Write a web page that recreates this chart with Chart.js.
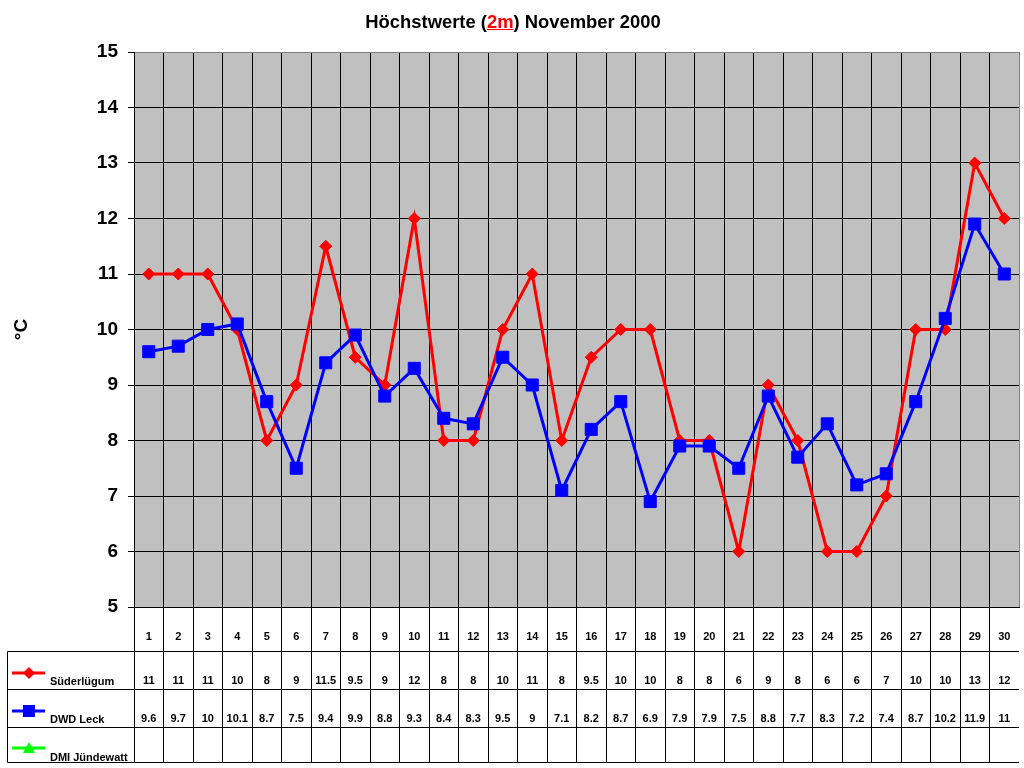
<!DOCTYPE html>
<html>
<head>
<meta charset="utf-8">
<script src="https://cdn.jsdelivr.net/npm/chart.js@4/dist/chart.umd.min.js"></script>
<style>
  body { margin: 0; background: #fff; }
  #wrap { position: relative; width: 1024px; height: 768px; }
  #title {
    position: absolute; left: 0; top: 11px; width: 1026px; text-align: center;
    font: bold 18.4px "Liberation Sans", Arial, sans-serif; color: #000;
  }
  #title span { color: #f00; text-decoration: underline; }
  canvas { position: absolute; left: 0; top: 0; }
</style>
</head>
<body>
<div id="wrap">
  <canvas id="myChart" width="1024" height="768"></canvas>
  <div id="title">Höchstwerte (<span>2m</span>) November 2000</div>
</div>
<script>
const days = ["1","2","3","4","5","6","7","8","9","10","11","12","13","14","15",
  "16","17","18","19","20","21","22","23","24","25","26","27","28","29","30"];
const suederluegum = [11, 11, 11, 10, 8, 9, 11.5, 9.5, 9, 12, 8, 8, 10, 11, 8,
  9.5, 10, 10, 8, 8, 6, 9, 8, 6, 6, 7, 10, 10, 13, 12];
const dwdLeck = [9.6, 9.7, 10, 10.1, 8.7, 7.5, 9.4, 9.9, 8.8, 9.3, 8.4, 8.3, 9.5, 9, 7.1,
  8.2, 8.7, 6.9, 7.9, 7.9, 7.5, 8.8, 7.7, 8.3, 7.2, 7.4, 8.7, 10.2, 11.9, 11];
const dmiJuendewatt = days.map(() => null);

const FONT = "'Liberation Sans', Arial, sans-serif";
Chart.defaults.font.family = FONT;
Chart.defaults.color = "#000";

// gray plot background
const plotBg = {
  id: "plotBg",
  beforeDraw(chart) {
    const { ctx, chartArea: a } = chart;
    ctx.save();
    ctx.fillStyle = "#c0c0c0";
    ctx.fillRect(a.left, a.top, a.right - a.left, a.bottom - a.top);
    ctx.restore();
  },
};

function legendKey(ctx, style, color, x, y) {
  ctx.strokeStyle = color;
  ctx.fillStyle = color;
  ctx.lineWidth = 3;
  ctx.beginPath();
  ctx.moveTo(x - 17, y);
  ctx.lineTo(x + 16, y);
  ctx.stroke();
  ctx.beginPath();
  if (style === "diamond") {
    ctx.moveTo(x, y - 6); ctx.lineTo(x + 6, y); ctx.lineTo(x, y + 6); ctx.lineTo(x - 6, y);
  } else if (style === "square") {
    ctx.rect(x - 6, y - 6, 12, 12);
  } else {
    ctx.moveTo(x, y - 6); ctx.lineTo(x + 6, y + 5); ctx.lineTo(x - 6, y + 5);
  }
  ctx.closePath();
  ctx.fill();
}

// data table under the plot
const dataTable = {
  id: "dataTable",
  afterDraw(chart) {
    const { ctx } = chart;
    const xs = chart.scales.x;
    const right = chart.chartArea.right;
    const rows = [
      { name: "Süderlügum", data: suederluegum, color: "#ff0000", style: "diamond", line: 689, key: 673, base: 684 },
      { name: "DWD Leck", data: dwdLeck, color: "#0000ff", style: "square", line: 727, key: 711, base: 722 },
      { name: "DMI Jündewatt", data: dmiJuendewatt, color: "#00ff00", style: "triangle", line: 762, key: 748, base: 760 },
    ];
    ctx.save();
    ctx.strokeStyle = "#000";
    ctx.lineWidth = 1;
    ctx.beginPath();
    ctx.moveTo(7.5, 651.5); ctx.lineTo(right, 651.5);
    rows.forEach((r) => { ctx.moveTo(7.5, r.line + 0.5); ctx.lineTo(right, r.line + 0.5); });
    ctx.moveTo(7.5, 651.5); ctx.lineTo(7.5, 762.5);
    ctx.stroke();

    ctx.font = "bold 11px " + FONT;
    ctx.fillStyle = "#000";
    ctx.textAlign = "center";
    ctx.textBaseline = "alphabetic";
    days.forEach((d, i) => ctx.fillText(d, xs.getPixelForValue(i), 640));
    rows.forEach((r) => {
      ctx.fillStyle = "#000";
      ctx.textAlign = "center";
      r.data.forEach((v, i) => {
        if (v !== null) ctx.fillText(String(v), xs.getPixelForValue(i), r.base);
      });
      ctx.textAlign = "left";
      ctx.fillText(r.name, 50, r.base + 1);
      legendKey(ctx, r.style, r.color, 29, r.key);
    });
    ctx.restore();
  },
};

new Chart(document.getElementById("myChart"), {
  type: "line",
  data: {
    labels: days,
    datasets: [
      {
        label: "Süderlügum",
        data: suederluegum,
        borderColor: "#ff0000",
        backgroundColor: "#ff0000",
        borderWidth: 3,
        pointStyle: "rectRot",
        pointRadius: 6,
        pointBorderWidth: 1,
        tension: 0,
        order: 2,
      },
      {
        label: "DWD Leck",
        data: dwdLeck,
        borderColor: "#0000ff",
        backgroundColor: "#0000ff",
        borderWidth: 3,
        pointStyle: "rect",
        pointRadius: 8.5,
        pointBorderWidth: 1,
        tension: 0,
        order: 1,
      },
      {
        label: "DMI Jündewatt",
        data: dmiJuendewatt,
        borderColor: "#00ff00",
        backgroundColor: "#00ff00",
        borderWidth: 3,
        pointStyle: "triangle",
        pointRadius: 6,
        order: 3,
      },
    ],
  },
  options: {
    responsive: false,
    animation: false,
    devicePixelRatio: 1,
    layout: { autoPadding: false, padding: { top: 52, right: 5, bottom: 5, left: 0 } },
    plugins: { legend: { display: false }, tooltip: { enabled: false } },
    scales: {
      x: {
        offset: true,
        afterFit(s) { s.height = 156; },
        ticks: { display: false },
        grid: {
          offset: true,
          color: (c) => (c.tick ? "#000" : "#808080"),
          tickColor: (c) => (c.tick ? "#000" : "rgba(0,0,0,0)"),
          tickLength: 156,
          lineWidth: 1,
        },
        border: { color: "#000" },
      },
      y: {
        min: 5,
        max: 15,
        afterFit(s) { s.width = 134; },
        ticks: { stepSize: 1, padding: 10, font: { size: 19, weight: "bold" } },
        grid: {
          color: (c) => (c.tick && c.tick.value === 15 ? "#808080" : "#000"),
          tickColor: "#000",
          tickLength: 6,
        },
        border: { color: "#000" },
        title: {
          display: true,
          text: "°C",
          font: { size: 19, weight: "bold" },
          padding: { top: 10, bottom: 0 },
        },
      },
    },
  },
  plugins: [plotBg, dataTable],
});
</script>
</body>
</html>
